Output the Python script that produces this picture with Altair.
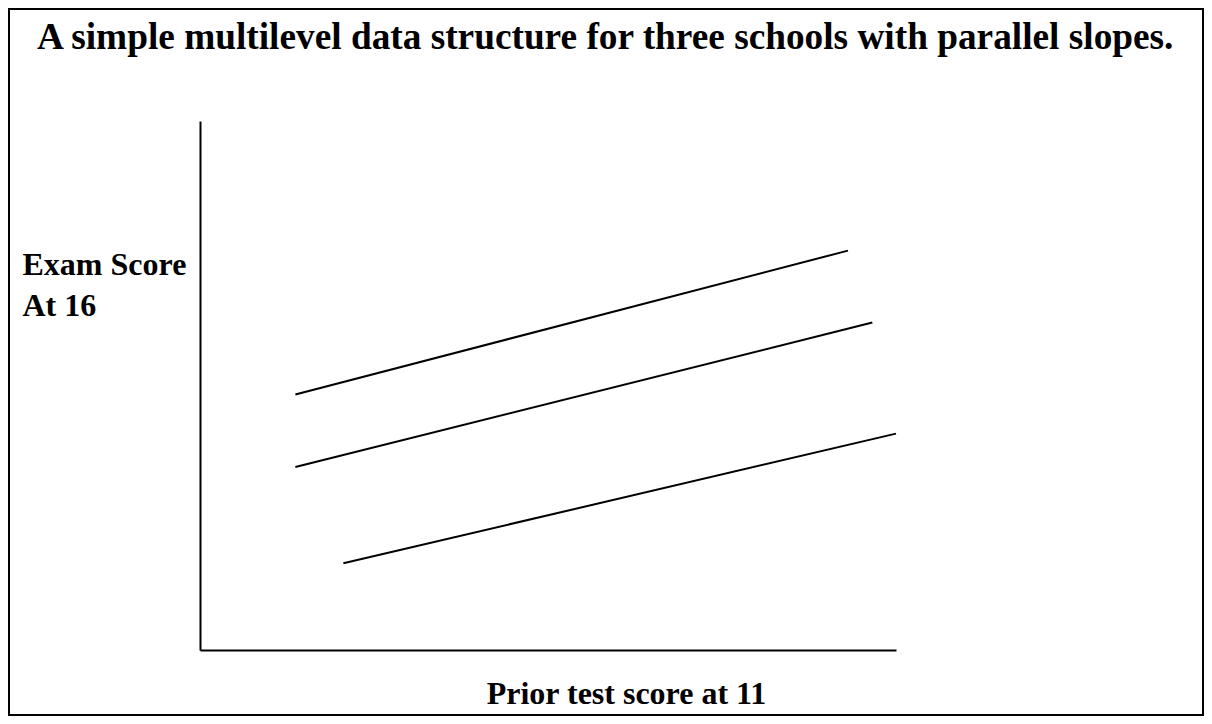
import altair as alt
import pandas as pd

# Three schools, parallel regression lines (start/end points)
schools = ["School A", "School B", "School C"]
x_start = [13.7, 13.7, 20.6]
x_end = [93.1, 96.6, 100.0]
y_start = [48.3, 34.6, 16.4]
y_end = [75.5, 61.9, 40.9]

title_text = "A simple multilevel data structure for three schools with parallel slopes."
x_title = "Prior test score at 11"
y_title = ["Exam Score", "At 16"]

rows = []
for s, xs, xe, ys, ye in zip(schools, x_start, x_end, y_start, y_end):
    rows.append({"school": s, "x": xs, "y": ys})
    rows.append({"school": s, "x": xe, "y": ye})
df = pd.DataFrame(rows)

FONT = "Liberation Serif"

lines = alt.Chart(df).mark_line(color="black", strokeWidth=2).encode(
    x=alt.X("x:Q", scale=alt.Scale(domain=[0, 100], nice=False, zero=False),
            axis=alt.Axis(title=x_title, domain=True, domainColor="black", domainWidth=2,
                          ticks=False, labels=False, grid=False,
                          titleFont=FONT, titleFontSize=32, titleFontWeight="bold",
                          titleColor="black", titleAlign="center", titleBaseline="alphabetic",
                          titleX=426, titleY=53)),
    y=alt.Y("y:Q", scale=alt.Scale(domain=[0, 100], nice=False, zero=False),
            axis=alt.Axis(title=y_title, domain=True, domainColor="black", domainWidth=2,
                          ticks=False, labels=False, grid=False,
                          titleFont=FONT, titleFontSize=32, titleFontWeight="bold",
                          titleColor="black", titleAngle=0, titleAlign="left",
                          titleBaseline="alphabetic", titleLineHeight=41,
                          titleX=-178, titleY=153)),
    detail="school:N",
)

frame = alt.Chart(pd.DataFrame({"a": [0]})).mark_rect(
    filled=False, stroke="black", strokeWidth=2
).encode(
    x=alt.value(-191), x2=alt.value(1003), y=alt.value(-112), y2=alt.value(594)
)

chart = alt.layer(frame, lines).properties(
    width=696,
    height=529,
    title=alt.TitleParams(text=title_text, font=FONT, fontSize=37.3, fontWeight="bold",
                          color="black", anchor="start", baseline="alphabetic",
                          offset=0, dx=29, dy=78),
    autosize=alt.AutoSizeParams(type="none"),
    padding={"left": 192, "top": 113, "right": 308, "bottom": 66},
    background="white",
).configure_view(stroke=None)

chart.save("out.html", embed_options={"renderer": "svg", "actions": False})
